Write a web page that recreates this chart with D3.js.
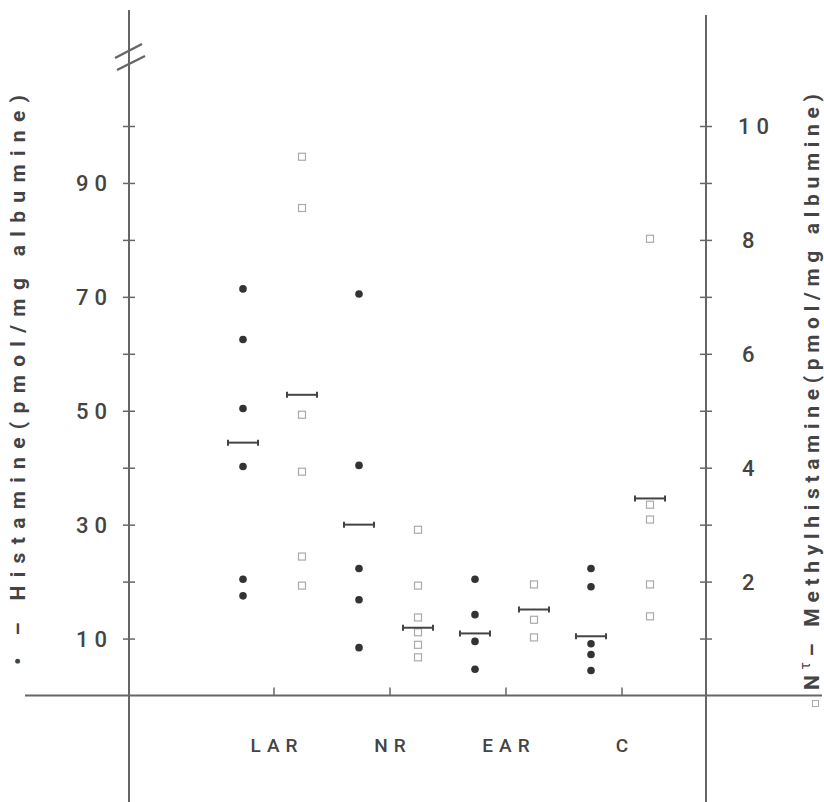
<!DOCTYPE html>
<html lang="en">
<head>
<meta charset="UTF-8">
<title>Histamine / Methylhistamine</title>
<script src="https://d3js.org/d3.v7.min.js"></script>
<style>
  body { margin: 0; background: #fff; }
  svg { display: block; }
  .lbl { font-family: Roboto, "DejaVu Sans", sans-serif; fill: #444; font-weight: 500; }
</style>
</head>
<body>
<div id="chart"></div>
<script>
// groups on the x axis
const categories = ['LAR', 'NR', 'EAR', 'C'];

// histamine, left axis (pmol/mg albumine), filled dots
const histamine = [
  [71.4, 62.5, 50.4, 40.2, 20.4, 17.5],
  [70.5, 40.4, 22.3, 16.8, 8.4],
  [20.4, 14.2, 9.5, 4.6],
  [22.3, 19.1, 9.1, 7.2, 4.4]
];
const histamineMean = [44.4, 30.0, 10.9, 10.4];

// N-tele-methylhistamine, right axis, open squares
const methyl = [
  [9.46, 8.56, 4.93, 3.93, 2.44, 1.93],
  [2.91, 1.93, 1.37, 1.11, 0.89, 0.67],
  [1.95, 1.33, 1.02],
  [8.02, 3.35, 3.09, 1.95, 1.39]
];
const methylMean = [5.28, 1.19, 1.51, 3.46];

const leftTicks = [10, 20, 30, 40, 50, 60, 70, 80, 90, 100];
const leftLabels = [10, 30, 50, 70, 90];
const rightTicks = [1, 2, 3, 4, 5, 6, 7, 8, 9, 10];
const rightLabels = [2, 4, 6, 8, 10];

const W = 824, H = 802;
const axL = 129, axR = 706, base = 695.5;

const svg = d3.select('#chart').append('svg')
  .attr('width', W).attr('height', H);

const yL = d3.scaleLinear().domain([0, 100]).range([base, 126]);
const yR = d3.scaleLinear().domain([0, 10]).range([base, 126]);
const x = d3.scalePoint().domain(categories).range([274, 622]);
const offH = -31, offM = 28;

const lineCol = '#666';

// baseline
svg.append('line')
  .attr('x1', 25).attr('x2', 822).attr('y1', base).attr('y2', base)
  .attr('stroke', lineCol).attr('stroke-width', 2);

// left axis
const gL = svg.append('g').attr('transform', `translate(${axL},0)`)
  .call(d3.axisLeft(yL).tickValues(leftTicks).tickSize(6).tickFormat(''));
gL.select('.domain').remove();
gL.selectAll('.tick line').attr('x1', -6).attr('x2', 6)
  .attr('stroke', lineCol).attr('stroke-width', 1.5);
svg.append('line')
  .attr('x1', axL).attr('x2', axL).attr('y1', 10).attr('y2', 802)
  .attr('stroke', lineCol).attr('stroke-width', 2);
// axis break
[[115, 58, 142, 44], [117, 70, 145, 56]].forEach(s => {
  svg.append('line')
    .attr('x1', s[0]).attr('y1', s[1]).attr('x2', s[2]).attr('y2', s[3])
    .attr('stroke', lineCol).attr('stroke-width', 2.5);
});

// right axis
const gR = svg.append('g').attr('transform', `translate(${axR},0)`)
  .call(d3.axisRight(yR).tickValues(rightTicks).tickSize(6).tickFormat(''));
gR.select('.domain').remove();
gR.selectAll('.tick line').attr('x1', -6).attr('x2', 6)
  .attr('stroke', lineCol).attr('stroke-width', 1.5);
svg.append('line')
  .attr('x1', axR).attr('x2', axR).attr('y1', 15).attr('y2', 802)
  .attr('stroke', lineCol).attr('stroke-width', 2);

// category ticks
svg.selectAll('.ctick').data(categories).enter().append('line')
  .attr('x1', d => x(d)).attr('x2', d => x(d))
  .attr('y1', base - 8).attr('y2', base)
  .attr('stroke', lineCol).attr('stroke-width', 1.5);

// tick labels
svg.selectAll('.ll').data(leftLabels).enter().append('text')
  .attr('class', 'lbl')
  .attr('x', 113).attr('y', d => yL(d) + 8)
  .attr('text-anchor', 'end')
  .style('font-size', '22px').style('letter-spacing', '6px')
  .text(d => d);

svg.selectAll('.rl').data(rightLabels).enter().append('text')
  .attr('class', 'lbl')
  .attr('x', d => d === 10 ? 738 : 742).attr('y', d => yR(d) + 8)
  .style('font-size', '22px').style('letter-spacing', '6px')
  .text(d => d);

svg.selectAll('.cl').data(categories).enter().append('text')
  .attr('class', 'lbl')
  .attr('x', d => x(d) + 3).attr('y', 752)
  .attr('text-anchor', 'middle')
  .style('font-size', '19px').style('letter-spacing', '6px')
  .text(d => d);

// axis titles
svg.append('text')
  .attr('class', 'lbl')
  .attr('transform', 'translate(25,380) rotate(-90)')
  .attr('text-anchor', 'middle')
  .attr('textLength', 570).attr('lengthAdjust', 'spacing')
  .style('font-size', '21px').style('font-weight', 'bold')
  .text('\u2022 \u2013 Histamine(pmol/mg albumine)');

const tR = svg.append('text')
  .attr('class', 'lbl')
  .attr('transform', 'translate(819,392) rotate(-90)')
  .attr('text-anchor', 'middle')
  .attr('textLength', 596).attr('lengthAdjust', 'spacing')
  .style('font-size', '21px').style('font-weight', 'bold');
tR.append('tspan').text('N');
tR.append('tspan').attr('dy', -9).style('font-size', '14px').style('font-weight', 'normal').text('\u03c4');
tR.append('tspan').attr('dy', 9).text('\u2013 Methylhistamine(pmol/mg albumine)');
svg.append('rect')
  .attr('x', 812.5).attr('y', 700.5).attr('width', 6).attr('height', 6)
  .attr('fill', 'none').attr('stroke', '#aaa').attr('stroke-width', 1);

// histamine dots and methylhistamine squares
categories.forEach((c, i) => {
  svg.selectAll(null).data(histamine[i]).enter().append('circle')
    .attr('cx', x(c) + offH).attr('cy', d => yL(d))
    .attr('r', 3.8).attr('fill', '#333');
  svg.selectAll(null).data(methyl[i]).enter().append('rect')
    .attr('x', x(c) + offM - 3.5).attr('y', d => yR(d) - 3.5)
    .attr('width', 7).attr('height', 7)
    .attr('fill', 'none').attr('stroke', '#aaa').attr('stroke-width', 1.2);
});

// mean bars with end caps
function meanBar(cx, cy) {
  const g = svg.append('g').attr('stroke', '#444').attr('stroke-width', 2);
  g.append('line').attr('x1', cx - 15).attr('x2', cx + 15).attr('y1', cy).attr('y2', cy);
  g.append('line').attr('x1', cx - 15).attr('x2', cx - 15).attr('y1', cy - 3).attr('y2', cy + 3);
  g.append('line').attr('x1', cx + 15).attr('x2', cx + 15).attr('y1', cy - 3).attr('y2', cy + 3);
}
categories.forEach((c, i) => {
  meanBar(x(c) + offH, yL(histamineMean[i]));
  meanBar(x(c) + offM, yR(methylMean[i]));
});
</script>
</body>
</html>
